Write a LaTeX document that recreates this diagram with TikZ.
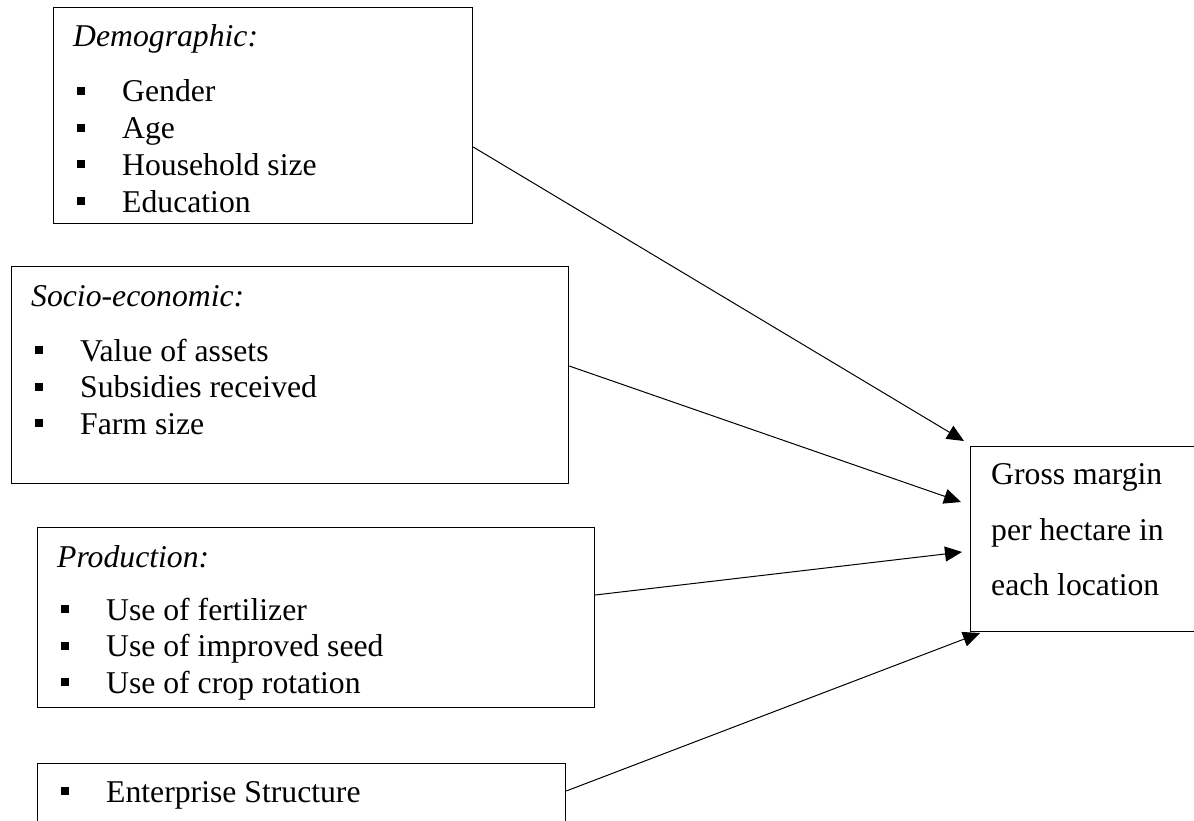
\documentclass[tikz,border=0pt]{standalone}
\usepackage{fontspec}
\setmainfont{Liberation Serif}
\usepackage{tikz}
\usetikzlibrary{arrows.meta}

\newcommand{\sqbullet}{\makebox[45pt][l]{\raisebox{7pt}{\rule{8pt}{8pt}}}}

\begin{document}
\begin{tikzpicture}[x=1pt, y=-1pt,
                    factor/.style={draw, line width=1.2pt, inner sep=0, anchor=north west},
                    txt/.style={inner sep=0, anchor=base west, font=\fontsize{31.7}{36.7}\selectfont},
                    link/.style={->, line width=1pt},
                    >={Triangle[length=17pt, width=15pt]}]
                \useasboundingbox (0,0) rectangle (1194,821);
                \clip (0,0) rectangle (1194,821);

                \node [factor, minimum width=419pt, minimum height=216pt] (demo) at (53,7) {};
                \node [factor, minimum width=557pt, minimum height=217pt] (socio) at (11,266) {};
                \node [factor, minimum width=557pt, minimum height=180pt] (prod) at (37,527) {};
                \node [factor, minimum width=528pt, minimum height=100pt] (ent) at (37,763) {};
                \node [factor, minimum width=300pt, minimum height=185pt] (gm) at (970,446) {};

                \path (demo.north west) ++(20,40) node [txt] (demo-head) {\textit{Demographic:}};
                \foreach \entry [count=\i] in {Gender, Age, Household size, Education}
                    \path (demo.north west) ++(24,{58.3+36.7*\i}) node [txt] (demo-\i) {\sqbullet\entry};

                \path (socio.north west) ++(20,40) node [txt] (socio-head) {\textit{Socio-economic:}};
                \foreach \entry [count=\i] in {Value of assets, Subsidies received, Farm size}
                    \path (socio.north west) ++(24,{58.3+36.7*\i}) node [txt] (socio-\i) {\sqbullet\entry};

                \path (prod.north west) ++(20,40) node [txt] (prod-head) {\textit{Production:}};
                \foreach \entry [count=\i] in {Use of fertilizer, Use of improved seed, Use of crop rotation}
                    \path (prod.north west) ++(24,{56.3+36.7*\i}) node [txt] (prod-\i) {\sqbullet\entry};

                \path (ent.north west) ++(24,39) node [txt] (ent-1) {\sqbullet Enterprise Structure};

                \foreach \entry [count=\i] in {Gross margin, per hectare in, each location}
                    \path (gm.north west) ++(21,{-17+55.5*\i}) node [txt] (gm-\i) {\entry};

                \path (demo.north east) ++(0,140) coordinate (demo-out);
                \path (socio.north east) ++(0,100) coordinate (socio-out);
                \path (prod.north east) ++(0,68) coordinate (prod-out);
                \path (ent.north east) ++(0,28) coordinate (ent-out);
                \path (gm.north west) ++(-6,-5) coordinate (gm-in1);
                \path (gm.north west) ++(-9,56) coordinate (gm-in2);
                \path (gm.north west) ++(-8,106) coordinate (gm-in3);
                \path (gm.north west) ++(10,187) coordinate (gm-in4);

                \draw [link] (demo-out) -- (gm-in1);
                \draw [link] (socio-out) -- (gm-in2);
                \draw [link] (prod-out) -- (gm-in3);
                \draw [link] (ent-out) -- (gm-in4);
            \end{tikzpicture}
\end{document}
